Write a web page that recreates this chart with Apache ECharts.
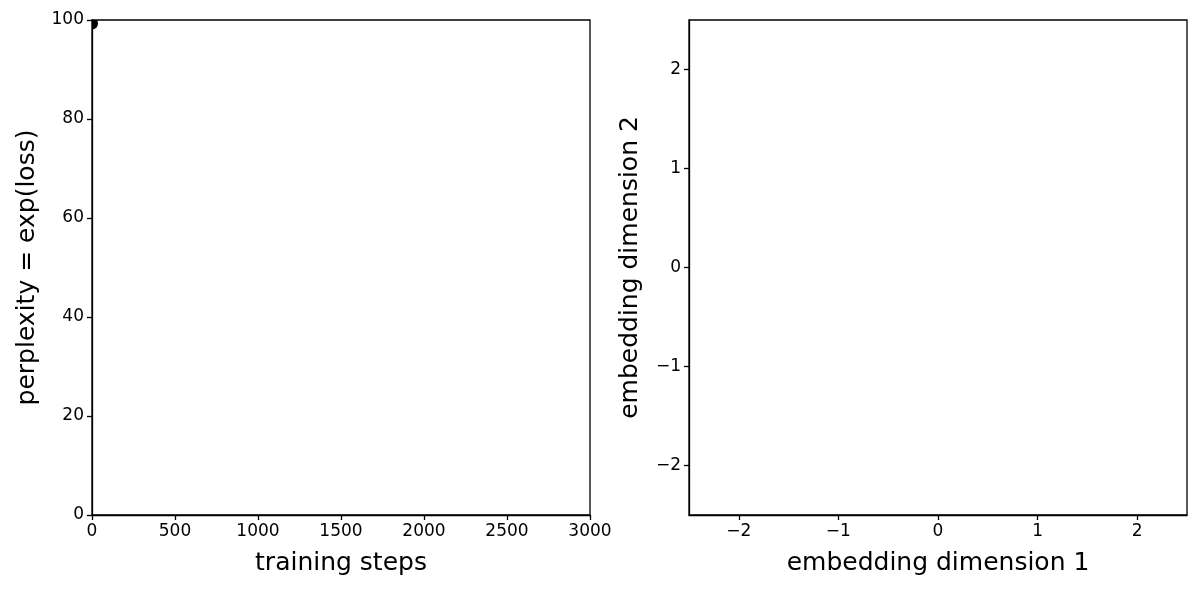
<!DOCTYPE html>
<html>
<head>
<meta charset="utf-8">
<script src="https://cdn.jsdelivr.net/npm/echarts@6/dist/echarts.min.js"></script>
<style>
  html, body { margin: 0; padding: 0; background: #fff; }
  #main { width: 1200px; height: 591px; }
</style>
</head>
<body>
<div id="main"></div>
<script>
// training curve (only the first point is logged so far)
const trainSteps = [0];
const perplexity = [99.3];

// 2D embedding points (none drawn yet)
const embedPoints = [];

// tick labels
const stepTicks = [0, 500, 1000, 1500, 2000, 2500, 3000];
const pplTicks = [0, 20, 40, 60, 80, 100];
const embedTicks = [-2, -1, 0, 1, 2];

const FONT = 'DejaVu Sans';
const minus = v => String(v).replace('-', '\u2212');

const chart = echarts.init(document.getElementById('main'), null, { renderer: 'canvas' });

const tickStyle = { color: '#000', width: 1.3 };
const labelStyle = { fontFamily: FONT, fontSize: 17, color: '#000', margin: 8, formatter: minus };

function axisBase(extra) {
  return Object.assign({
    type: 'value',
    nameLocation: 'middle',
    nameTextStyle: { fontFamily: FONT, fontSize: 25, color: '#000' },
    axisLine: { show: true, onZero: false, lineStyle: { color: '#000', width: 1.3 } },
    axisTick: { show: true, inside: false, length: 5, lineStyle: tickStyle },
    axisLabel: labelStyle,
    splitLine: { show: false }
  }, extra);
}

const option = {
  animation: false,
  grid: [
    { left: 92, right: 610, top: 20, bottom: 76, show: true, borderColor: '#000', borderWidth: 1.3 },
    { left: 689, right: 13, top: 20, bottom: 76, show: true, borderColor: '#000', borderWidth: 1.3 }
  ],
  xAxis: [
    axisBase({ gridIndex: 0, min: 0, max: 3000, interval: 500, name: 'training steps', nameGap: 36 }),
    axisBase({
      gridIndex: 1, min: -2.5, max: 2.5, name: 'embedding dimension 1', nameGap: 36,
      axisLabel: Object.assign({}, labelStyle, { customValues: embedTicks }),
      axisTick: { show: true, length: 5, lineStyle: tickStyle, customValues: embedTicks }
    })
  ],
  yAxis: [
    axisBase({ gridIndex: 0, min: 0, max: 100, interval: 20, name: 'perplexity = exp(loss)', nameGap: 52 }),
    axisBase({
      gridIndex: 1, min: -2.5, max: 2.5, name: 'embedding dimension 2', nameGap: 46,
      axisLabel: Object.assign({}, labelStyle, { customValues: embedTicks }),
      axisTick: { show: true, length: 5, lineStyle: tickStyle, customValues: embedTicks }
    })
  ],
  series: [
    {
      // perplexity curve drawn as markers, clipped to the plot box
      type: 'custom',
      xAxisIndex: 0, yAxisIndex: 0,
      data: trainSteps.map((s, i) => [s, perplexity[i]]),
      clip: true,
      renderItem: function (params, api) {
        const p = api.coord([api.value(0), api.value(1)]);
        return { type: 'circle', shape: { cx: p[0], cy: p[1], r: 6 }, style: { fill: '#000' } };
      }
    },
    {
      type: 'scatter',
      xAxisIndex: 1, yAxisIndex: 1,
      data: embedPoints,
      symbolSize: 8,
      itemStyle: { color: '#000' }
    }
  ]
};

chart.setOption(option);
</script>
</body>
</html>
